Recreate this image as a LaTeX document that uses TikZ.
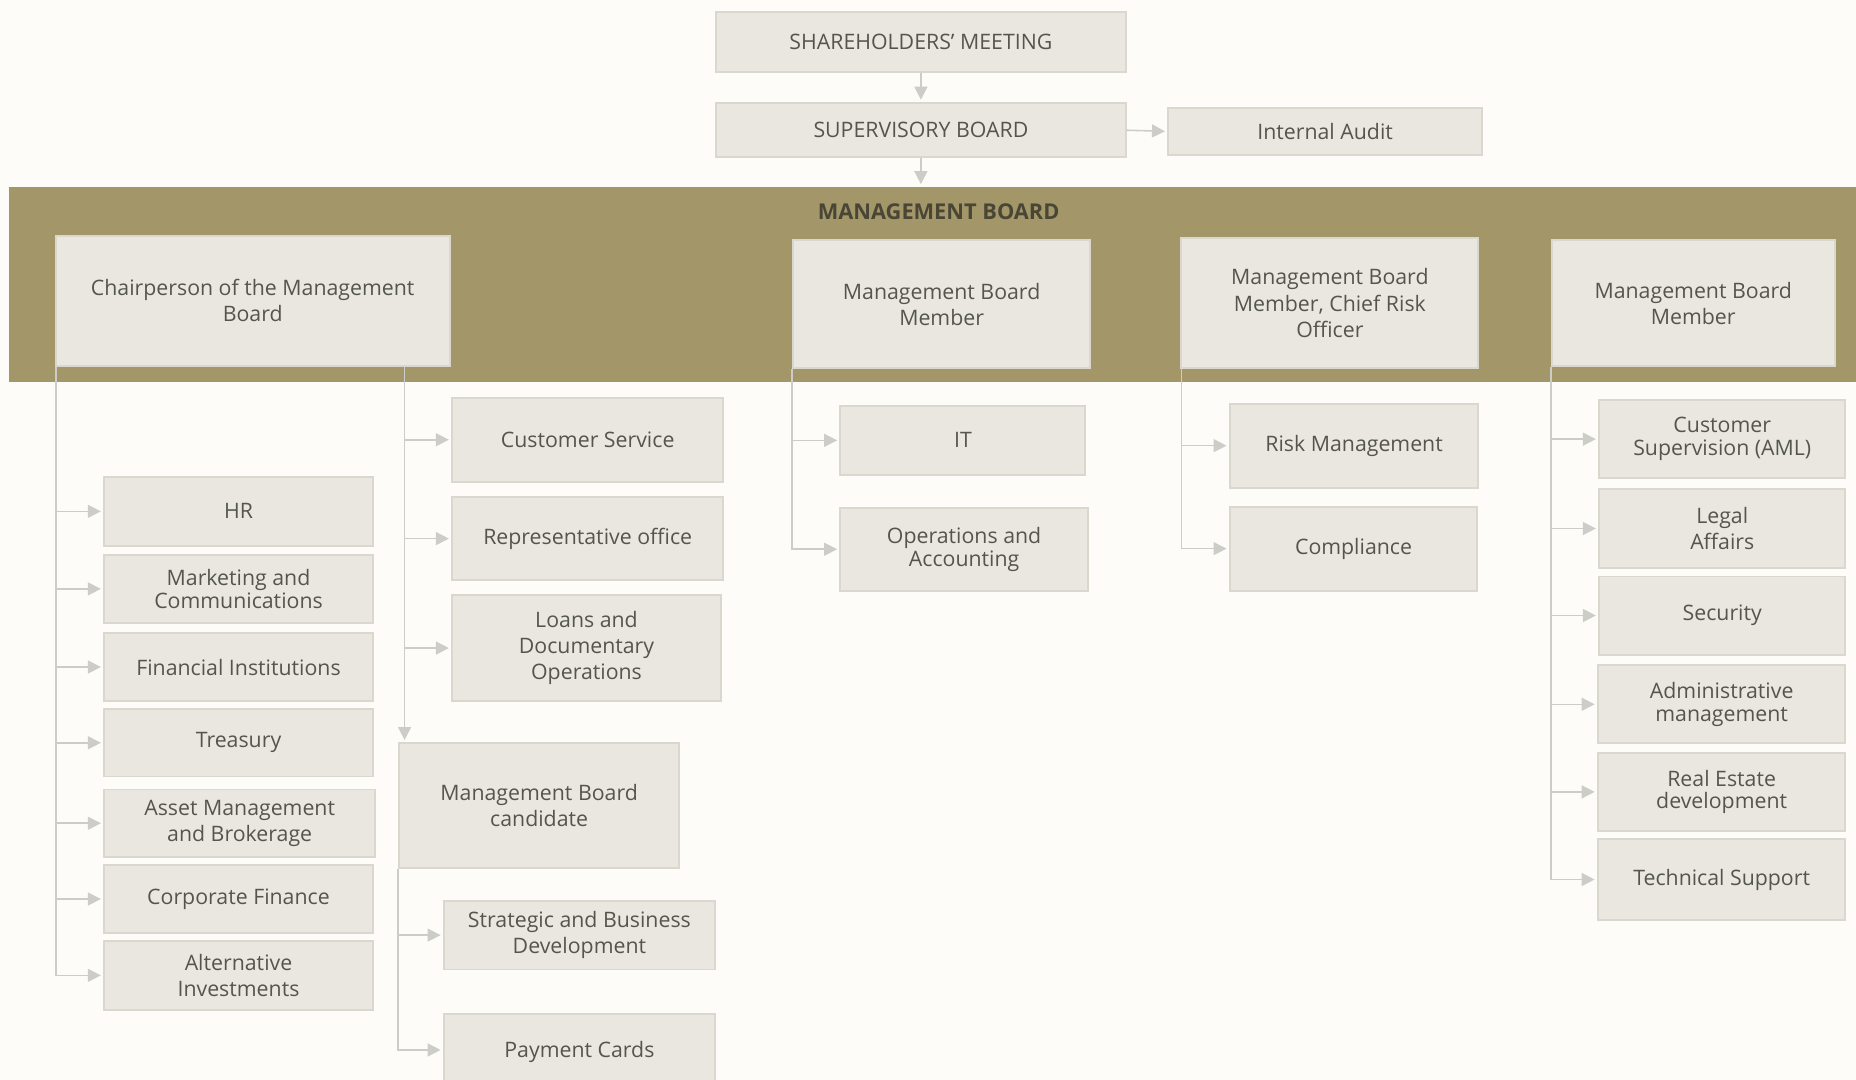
\documentclass[tikz,border=0pt]{standalone}
\usepackage{fontspec}
\setmainfont{Open Sans}
\usetikzlibrary{arrows.meta,calc}
\definecolor{bg}{HTML}{FDFCF8}
\definecolor{bandc}{HTML}{A39669}
\definecolor{boxfill}{HTML}{E9E7E0}
\definecolor{boxedge}{HTML}{DAD7CE}
\definecolor{txt}{HTML}{55554F}
\definecolor{conn}{HTML}{CDCDC8}
\definecolor{mbtxt}{HTML}{4A4636}
\newcommand\bx[7][]{%
  \pgfmathsetmacro\bw{(#4-#2)*0.5}\pgfmathsetmacro\bh{(#5-#3)*0.5}%
  \node[box,#1,minimum width=\bw pt,minimum height=\bh pt] (#6) at ({(#2+#4)/2},{(#3+#5)/2}) {#7};}
\begin{document}
\begin{tikzpicture}[x=0.5pt,y=-0.5pt,
  box/.style={draw=boxedge, fill=boxfill, line width=0.8pt, inner sep=0pt, align=center, text=txt, font=\fontsize{9}{11}\selectfont},
  tight/.style={font=\fontsize{9}{9.6}\selectfont},
  bandbox/.style={fill=bandc, draw=none, inner sep=0pt},
  arr/.style={draw=conn, line width=0.65pt, shorten >=1pt, -{Triangle[length=5.5pt,width=5.5pt]}},
  ln/.style={draw=conn, line width=0.65pt}]
\fill[bg] (0,0) rectangle (1568,912);
\useasboundingbox (0,0) rectangle (1568,912);
\clip (0,0) rectangle (1568,912);
% band
\node[bandbox, minimum width=780pt, minimum height=82.5pt] (mb) at (788,240.5) {};
\node[font=\bfseries\fontsize{9.2}{11}\selectfont, text=mbtxt, inner sep=0pt] (mbl) at (793,179) {MANAGEMENT BOARD};
% top
\bx{605}{10}{951}{61}{shm}{SHAREHOLDERS’ MEETING}
\bx{605}{87}{951}{133}{sup}{SUPERVISORY BOARD}
\bx{987}{91}{1252}{131}{ia}{Internal Audit}
% heads
\bx{47}{199}{380}{309}{chair}{Chairperson of the Management\\Board}
\bx{670}{203}{921}{311}{mbm1}{Management Board\\Member}
\bx{998}{201}{1249}{311}{cro}{Management Board\\Member, Chief Risk\\Officer}
\bx{1311}{203}{1550}{309}{mbm2}{Management Board\\Member}
% chair left column
\bx{88}{403}{315}{461}{hr}{HR}
\bx[tight]{88}{469}{315}{526}{mkt}{Marketing and\\Communications}
\bx{88}{535}{315}{592}{fi}{Financial Institutions}
\bx{88}{599}{315}{656}{tre}{Treasury}
\bx{88}{667}{317}{724}{am}{Asset Management\\and Brokerage}
\bx{88}{731}{315}{788}{cf}{Corporate Finance}
\bx{88}{795}{315}{853}{ai}{Alternative\\Investments}
% chair right column
\bx{382}{336}{611}{407}{cs}{Customer Service}
\bx{382}{420}{611}{490}{ro}{Representative office}
\bx{382}{503}{609}{592}{ldo}{Loans and\\Documentary\\Operations}
\bx{337}{628}{574}{733}{cand}{Management Board\\candidate}
\bx{375}{761}{604}{819}{sbd}{Strategic and Business\\Development}
\bx{375}{857}{604}{920}{pc}{Payment Cards}
% mbm1
\bx{710}{343}{917}{401}{it}{IT}
\bx[tight]{710}{429}{919}{499}{oa}{Operations and\\Accounting}
% cro
\bx{1039}{341}{1249}{412}{rm}{Risk Management}
\bx{1039}{428}{1248}{499}{comp}{Compliance}
% mbm2
\bx[tight]{1351}{338}{1559}{404}{aml}{Customer\\Supervision (AML)}
\bx{1351}{413}{1559}{480}{la}{Legal\\Affairs}
\bx{1351}{487}{1559}{553}{sec}{Security}
\bx[tight]{1350}{562}{1559}{628}{adm}{Administrative\\management}
\bx[tight]{1350}{636}{1559}{702}{red}{Real Estate\\development}
\bx{1350}{709}{1559}{777}{ts}{Technical Support}
% connectors top
\draw[arr] (shm.south) -- (sup.north);
\draw[arr] (sup.east) -- (ia.west);
\draw[arr] (sup.south) -- (sup.south |- mb.north);
% trunks
\coordinate (t1) at ($(chair.south west)+(1,0)$);
\coordinate (t2) at ($(chair.south east)+(-39,0)$);
\coordinate (t3) at ($(cand.south west)+(0,0)$);
\coordinate (t4) at ($(mbm1.south west)+(0,0)$);
\coordinate (t5) at ($(cro.south west)+(1,0)$);
\coordinate (t6) at ($(mbm2.south west)+(0,0)$);
\foreach \n in {hr,mkt,fi,tre,am,cf,ai} \draw[arr] (t1) |- (\n.west);
\foreach \n in {cs,ro,ldo} \draw[arr] (t2) |- (\n.west);
\draw[arr] (t2) -- (t2 |- cand.north);
\foreach \n in {sbd} \draw[arr] (t3) |- (\n.west);
\draw[arr] (t3) |- ($(pc.west)+(0,-1.5)$);
\foreach \n in {it,oa} \draw[arr] (t4) |- (\n.west);
\foreach \n in {rm,comp} \draw[arr] (t5) |- (\n.west);
\foreach \n in {aml,la,sec,adm,red,ts} \draw[arr] (t6) |- (\n.west);
\end{tikzpicture}
\end{document}
